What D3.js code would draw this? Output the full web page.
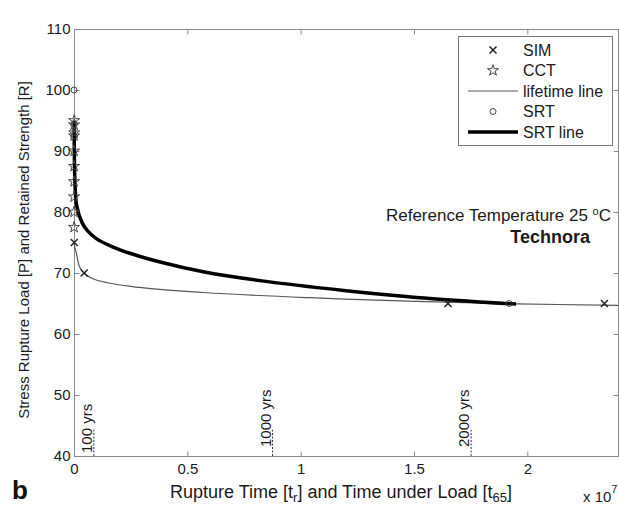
<!DOCTYPE html>
<html>
<head>
<meta charset="utf-8">
<script src="https://cdn.jsdelivr.net/npm/d3@7"></script>
<style>
  body { margin: 0; background: #fff; }
  svg { display: block; font-family: "Liberation Sans", Arial, sans-serif; }
</style>
</head>
<body>
<svg id="svg" width="619" height="505"></svg>
<script>
// time values are in units of 1e7 (hours)
const simTime = [0.001, 0.045, 1.65, 2.34];
const simLoad = [75, 70, 65, 65];

const cctTime = [0.0005, 0.0003, 0.0006, 0.0002, 0.0004, 0.0005, 0.0003, 0.0006, 0.0002, 0.0004];
const cctLoad = [95, 94.3, 93, 92.5, 90, 87.5, 85, 82.5, 80, 77.5];

const srtTime = [0, 1.92];
const srtLoad = [100, 65];

const lifeTime = [0, 0.003, 0.01, 0.026, 0.05, 0.095, 0.25, 0.57, 1.04, 1.51, 1.95, 2.4];
const lifeLoad = [75, 74.3, 73.3, 70.9, 69.8, 68.9, 67.8, 66.8, 65.95, 65.35, 64.95, 64.7];

const srtLineTime = [0.0005, 0.002, 0.005, 0.012, 0.035, 0.06, 0.1, 0.17, 0.25, 0.38, 0.57, 0.82, 1.2, 1.51, 1.95];
const srtLineLoad = [95, 88, 84, 81, 78.3, 76.9, 75.6, 74.3, 73.2, 71.8, 70.2, 68.75, 67.1, 66.0, 64.9];

const yearLabels = ["100 yrs", "1000 yrs", "2000 yrs"];
const yearTime = [0.0876, 0.876, 1.752];

const xTicks = [0, 0.5, 1, 1.5, 2];
const yTicks = [40, 50, 60, 70, 80, 90, 100, 110];

const legendNames = ["SIM", "CCT", "lifetime line", "SRT", "SRT line"];

const plotLeft = 74, plotRight = 618, plotTop = 29, plotBottom = 456;
const axisColor = "#8a8a8a";

let svg = d3.select("#svg");

const x = d3.scaleLinear().domain([0, 2.4]).range([plotLeft, plotRight]);
const y = d3.scaleLinear().domain([40, 110]).range([plotBottom, plotTop]);

const zip = (a, b) => a.map((v, i) => [v, b[i]]);

// box
svg.append("rect")
  .attr("x", plotLeft + 0.5).attr("y", plotTop + 0.5)
  .attr("width", plotRight - plotLeft).attr("height", plotBottom - plotTop)
  .attr("fill", "none").attr("stroke", axisColor);

function styleAxis(g) {
  g.select(".domain").remove();
  g.selectAll(".tick line").attr("stroke", axisColor);
  g.selectAll("text").attr("fill", "#1a1a1a").attr("font-size", 15)
    .attr("font-family", "Liberation Sans, Arial, sans-serif");
}

svg.append("g").attr("transform", `translate(0,${plotBottom + 0.5})`)
  .call(d3.axisBottom(x).tickValues(xTicks).tickSize(-5).tickPadding(7).tickFormat(d3.format("")))
  .call(styleAxis);
svg.append("g").attr("transform", `translate(0,${plotTop + 0.5})`)
  .call(d3.axisTop(x).tickValues(xTicks).tickSize(-5).tickFormat(""))
  .call(styleAxis);
svg.append("g").attr("transform", `translate(${plotLeft + 0.5},0)`)
  .call(d3.axisLeft(y).tickValues(yTicks).tickSize(-5).tickPadding(4))
  .call(styleAxis);
svg.append("g").attr("transform", `translate(${plotRight + 0.5},0)`)
  .call(d3.axisRight(y).tickValues(yTicks).tickSize(-5).tickFormat(""))
  .call(styleAxis);

// year markers
const yr = svg.append("g");
yearTime.forEach((t, i) => {
  yr.append("line")
    .attr("x1", x(t)).attr("x2", x(t))
    .attr("y1", y(40)).attr("y2", y(44.3))
    .attr("stroke", "#333").attr("stroke-dasharray", "2,1.5");
  yr.append("text")
    .attr("transform", `translate(${x(t) - 2},${y(40) - (i === 0 ? 3 : 9)}) rotate(-90)`)
    .attr("font-size", 15).attr("fill", "#1a1a1a")
    .text(yearLabels[i]);
});

// curves
const line = d3.line().x((d) => x(d[0])).y((d) => y(d[1])).curve(d3.curveCatmullRom.alpha(0.5));

svg.append("path").datum(zip(lifeTime, lifeLoad))
  .attr("d", line).attr("fill", "none").attr("stroke", "#555").attr("stroke-width", 1.2);
svg.append("path").datum(zip(srtLineTime, srtLineLoad))
  .attr("d", line).attr("fill", "none").attr("stroke", "#000").attr("stroke-width", 3.5);

// markers
function cross(g, cx, cy, r) {
  g.append("path")
    .attr("d", `M${cx - r},${cy - r}L${cx + r},${cy + r}M${cx - r},${cy + r}L${cx + r},${cy - r}`)
    .attr("stroke", "#222").attr("stroke-width", 1.5).attr("fill", "none");
}
const star = d3.symbol().type(d3.symbolStar).size(38);
function starMark(g, cx, cy) {
  g.append("path").attr("d", star())
    .attr("transform", `translate(${cx},${cy})`)
    .attr("fill", "none").attr("stroke", "#444").attr("stroke-width", 1);
}
function circ(g, cx, cy) {
  g.append("circle").attr("cx", cx).attr("cy", cy).attr("r", 3)
    .attr("fill", "none").attr("stroke", "#444").attr("stroke-width", 1);
}

const marks = svg.append("g");
zip(cctTime, cctLoad).forEach((d) => starMark(marks, x(d[0]), y(d[1])));
zip(srtTime, srtLoad).forEach((d) => circ(marks, x(d[0]), y(d[1])));
zip(simTime, simLoad).forEach((d) => cross(marks, x(d[0]), y(d[1]), 3.5));

// annotation
const ref = svg.append("text").attr("x", 611).attr("y", 221).attr("text-anchor", "end")
  .attr("font-size", 17).attr("fill", "#1a1a1a");
ref.append("tspan").text("Reference Temperature 25 ");
ref.append("tspan").attr("dy", -6).attr("font-size", 11).text("o");
ref.append("tspan").attr("dy", 6).text("C");
svg.append("text").attr("x", 590).attr("y", 243).attr("text-anchor", "end")
  .attr("font-size", 18).attr("font-weight", "bold").attr("fill", "#1a1a1a")
  .text("Technora");

// legend
const lg = svg.append("g");
lg.append("rect").attr("x", 458.5).attr("y", 36.5).attr("width", 154).attr("height", 109)
  .attr("fill", "#fff").attr("stroke", "#777");
const rowY = (i) => 50 + i * 20.5;
legendNames.forEach((name, i) => {
  lg.append("text").attr("x", 523).attr("y", rowY(i) + 5.5)
    .attr("font-size", 16).attr("fill", "#1a1a1a").text(name);
});
cross(lg, 493, rowY(0), 3.5);
starMark(lg, 493, rowY(1));
lg.append("line").attr("x1", 468).attr("x2", 518).attr("y1", rowY(2)).attr("y2", rowY(2))
  .attr("stroke", "#555").attr("stroke-width", 1.2);
circ(lg, 493, rowY(3));
lg.append("line").attr("x1", 468).attr("x2", 518).attr("y1", rowY(4)).attr("y2", rowY(4))
  .attr("stroke", "#000").attr("stroke-width", 3.5);

// axis titles
const xl = svg.append("text").attr("x", 341).attr("y", 498).attr("text-anchor", "middle")
  .attr("font-size", 18).attr("fill", "#1a1a1a");
xl.append("tspan").text("Rupture Time [t");
xl.append("tspan").attr("dy", 4).attr("font-size", 13).text("r");
xl.append("tspan").attr("dy", -4).text("] and Time under Load [t");
xl.append("tspan").attr("dy", 4).attr("font-size", 13).text("65");
xl.append("tspan").attr("dy", -4).text("]");

svg.append("text").attr("transform", "translate(29,250) rotate(-90)")
  .attr("text-anchor", "middle").attr("font-size", 15).attr("fill", "#1a1a1a")
  .text("Stress Rupture Load [P] and Retained Strength [R]");

const ex = svg.append("text").attr("x", 583).attr("y", 502).attr("font-size", 15).attr("fill", "#1a1a1a");
ex.append("tspan").text("x 10");
ex.append("tspan").attr("dy", -9).attr("font-size", 11).text("7");

svg.append("text").attr("x", 12).attr("y", 499).attr("font-size", 26).attr("font-weight", "bold")
  .attr("fill", "#111").text("b");
</script>
</body>
</html>
